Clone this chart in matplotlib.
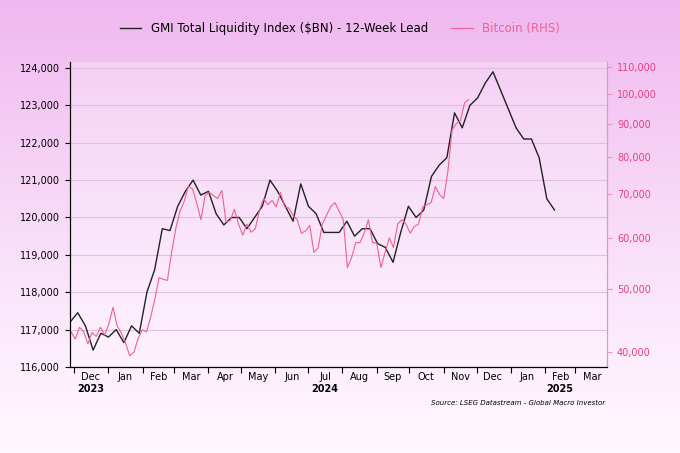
import numpy as np
import pandas as pd
import matplotlib
matplotlib.use("Agg")
import matplotlib.pyplot as plt
import matplotlib.dates as mdates
from matplotlib.ticker import FixedLocator, NullLocator

gli = [117200,117450,117100,116450,116900,116800,117000,116650,117100,116900,
       118000,118600,119700,119650,120300,120700,121000,120600,120700,120100,
       119800,120000,120000,119700,120000,120300,121000,120700,120300,119900,
       120900,120300,120100,119600,119600,119600,119900,119500,119700,119700,
       119300,119200,118800,119600,120300,120000,120200,121100,121400,121600,
       122800,122400,123000,123200,123600,123900,123400,122900,122400,122100,
       122100,121600,120500,120200]
gli_dates = pd.date_range("2023-11-27", periods=len(gli), freq="7D")

btc = [43.0,41.9,43.7,43.0,41.2,42.9,42.3,43.7,42.5,
       44.2,46.9,43.9,42.8,41.3,39.5,40.0,42.0,43.3,
       43.0,45.3,48.3,52.1,51.8,51.6,57.0,62.0,
       66.0,68.3,72.0,71.4,67.9,64.0,69.7,70.5,
       69.7,69.0,71.0,63.5,63.8,66.4,63.0,60.6,
       63.0,61.2,62.0,66.3,69.0,67.5,68.5,67.0,
       70.5,67.0,66.7,65.0,64.0,61.0,61.5,62.7,
       57.0,57.9,63.0,65.0,67.0,68.0,66.0,64.0,
       54.0,56.0,59.0,59.0,61.0,64.0,59.0,58.9,
       54.0,57.0,60.0,58.0,63.0,64.0,63.0,
       61.0,62.5,63.0,67.0,67.5,68.0,72.0,70.0,
       69.0,76.0,88.0,90.0,91.0,97.0,98.0]
btc = [v*1000 for v in btc]
btc_dates = pd.date_range("2023-11-28", "2024-11-24", periods=len(btc))

left_ticks = [116000,117000,118000,119000,120000,121000,122000,123000,124000]
right_ticks = [40000,50000,60000,70000,80000,90000,100000,110000]

fig = plt.figure(figsize=(6.8,4.53), dpi=100)
bg = fig.add_axes([0,0,1,1], zorder=-10)
g = np.linspace(0,1,200)[:,None]
c_top = np.array([0.94,0.72,0.94]); c_bot = np.array([1.0,0.97,1.0])
img = c_top*(1-g[...,None])**1.2 + c_bot*(1-(1-g[...,None])**1.2)
img = np.repeat(img, 2, axis=1)
bg.imshow(img, aspect="auto", extent=[0,1,0,1])
bg.axis("off")

ax = fig.add_axes([0.103,0.19,0.79,0.673])
ax.set_facecolor((1,1,1,0.25))
ax.plot(gli_dates, gli, color="#222222", lw=1.0, label="GMI Total Liquidity Index ($BN) - 12-Week Lead")
ax.set_ylim(116000,124160)
ax.set_yticks(left_ticks)
ax.set_yticklabels([f"{v:,}" for v in left_ticks], fontsize=7)
ax.yaxis.grid(True, color="#e0c0e0", lw=0.8)
ax.set_xlim(pd.Timestamp("2023-11-27"), pd.Timestamp("2025-03-30"))
months = pd.date_range("2023-12-01","2025-03-01",freq="MS")
ax.xaxis.set_major_locator(FixedLocator(mdates.date2num(months)))
ax.set_xticklabels([])
mids = months + pd.Timedelta(days=15)
ax.xaxis.set_minor_locator(FixedLocator(mdates.date2num(mids)))
ax.set_xticklabels([m.strftime("%b") for m in months], minor=True, fontsize=7)
ax.tick_params(axis="x", which="minor", length=0, pad=4)
ax.tick_params(axis="x", which="major", length=4)
for lab, d in [("2023","2023-12-16"),("2024","2024-07-16"),("2025","2025-02-15")]:
    ax.text(mdates.date2num(pd.Timestamp(d)), -0.055, lab, transform=ax.get_xaxis_transform(),
            ha="center", va="top", fontsize=7, fontweight="bold")
ax.spines["top"].set_visible(False)
ax.spines["right"].set_color("#f090c0")

ax2 = ax.twinx()
ax2.plot(btc_dates, btc, color="#f06090", lw=0.8, label="Bitcoin (RHS)")
ax2.set_yscale("log")
ax2.set_ylim(37960,111960)
ax2.yaxis.set_major_locator(FixedLocator(right_ticks))
ax2.yaxis.set_minor_locator(NullLocator())
ax2.set_yticklabels([f"{v:,}" for v in right_ticks], fontsize=7, color="#e8407a")
ax2.tick_params(axis="y", colors="#f090c0", labelcolor="#e8407a")
ax2.spines["top"].set_visible(False)
ax2.spines["right"].set_color("#f090c0")

h1,l1 = ax.get_legend_handles_labels(); h2,l2 = ax2.get_legend_handles_labels()
leg = fig.legend(h1+h2, l1+l2, loc="upper center", bbox_to_anchor=(0.5,0.975), ncol=2,
                 frameon=False, fontsize=8.5, handlelength=1.8, columnspacing=2)
leg.get_texts()[1].set_color("#f06090")
fig.text(0.89,0.105,"Source: LSEG Datastream - Global Macro Investor", ha="right", fontsize=5, style="italic")
fig.savefig("out.png", dpi=100)
